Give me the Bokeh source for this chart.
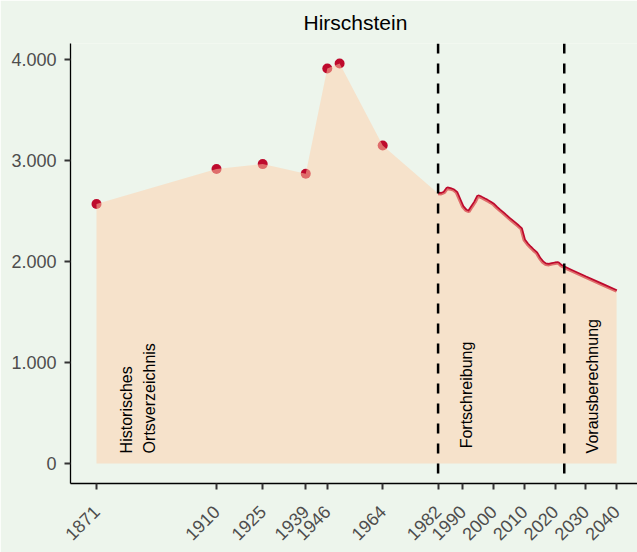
import numpy as np
from bokeh.plotting import figure
from bokeh.models import FixedTicker, Range1d, ColumnDataSource, Span
from bokeh.core.properties import value
from bokeh.embed import file_html
from bokeh.resources import INLINE

# ---- data ----
hist_years = [1871, 1910, 1925, 1939, 1946, 1950, 1964]
hist_pop = [2566, 2912, 2961, 2865, 3907, 3956, 3145]

fort_years = list(range(1982, 2023))
fort_pop = [2670, 2668, 2680, 2722, 2715, 2705, 2680, 2610, 2540, 2505,
            2492, 2540, 2585, 2645, 2632, 2615, 2600, 2582, 2562, 2532,
            2505, 2480, 2452, 2425, 2400, 2375, 2350, 2322, 2210, 2170,
            2138, 2108, 2082, 2030, 1992, 1970, 1966, 1974, 1980, 1984,
            1955]

proj_years = [2023, 2025, 2030, 2035, 2040]
proj_pop = [1940, 1912, 1842, 1774, 1706]

x_ticks = [1871, 1910, 1925, 1939, 1946, 1964, 1982, 1990, 2000, 2010, 2020, 2030, 2040]
y_ticks = [0, 1000, 2000, 3000, 4000]
y_tick_labels = ["0", "1.000", "2.000", "3.000", "4.000"]

break_years = [1982, 2023]
section_labels = ["Historisches\nOrtsverzeichnis", "Fortschreibung", "Vorausberechnung"]
section_x = [1884.5, 1991.2, 2032.3]
section_y = [100, 150, 100]

# ---- styles ----
BG = "#EDF5EC"
AREA = "#FFCFAA"
RED = "#BE0A2D"
FONT = "Liberation Sans"

line_years = fort_years + proj_years
line_pop = fort_pop + proj_pop
all_years = hist_years + line_years
all_pop = hist_pop + line_pop

p = figure(width=637, height=552,
           x_range=Range1d(1862.55, 2046.8), y_range=Range1d(-197.8, 4153.8),
           output_backend="svg", toolbar_location=None,
           background_fill_color=BG, border_fill_color=BG,
           min_border_left=70, min_border_right=0, min_border_top=43, min_border_bottom=69)
p.outline_line_color = None
p.grid.visible = False

p.title.text = "Hirschstein"
p.title.align = "left"
p.title.offset = 233
p.title.standoff = 15
p.title.vertical_align = "top"
p.title.text_font = FONT
p.title.text_font_size = "21px"
p.title.text_font_style = "normal"
p.title.text_color = "black"

src_pts = ColumnDataSource(dict(x=hist_years, y=hist_pop))
src_line = ColumnDataSource(dict(x=line_years, y=line_pop))
src_area = ColumnDataSource(dict(x=all_years, y=all_pop))

p.scatter("x", "y", source=src_pts, size=10, fill_color=RED, line_color=None)
p.line("x", "y", source=src_line, line_color=RED, line_width=3.4)
p.varea(x="x", y1=0, y2="y", source=src_area, fill_color=AREA, fill_alpha=0.5)

for yr in break_years:
    p.add_layout(Span(location=yr, dimension="height", line_color="black",
                      line_width=2.5, line_dash="10 10"))

p.text(x=section_x, y=section_y, text=section_labels, angle=np.pi / 2,
       text_align="left", text_baseline="middle", text_font=value(FONT),
       text_font_size="16px", text_line_height=1.35, text_color="black")

for ax in (p.xaxis[0], p.yaxis[0]):
    ax.axis_line_color = "black"
    ax.axis_line_width = 1.3
    ax.major_tick_line_color = "#333333"
    ax.major_tick_line_width = 2
    ax.major_tick_out = 6
    ax.major_tick_in = 0
    ax.minor_tick_line_color = None
    ax.major_label_text_font = FONT
    ax.major_label_text_font_size = "18px"
    ax.major_label_text_color = "#4D4D4D"

p.xaxis.ticker = FixedTicker(ticks=x_ticks)
p.xaxis.major_label_orientation = np.pi / 4
p.xaxis.major_label_standoff = 19
p.yaxis.ticker = FixedTicker(ticks=y_ticks)
p.yaxis.major_label_overrides = dict(zip(y_ticks, y_tick_labels))
p.yaxis.major_label_standoff = 8

open("out.html", "w").write(file_html(p, INLINE))
